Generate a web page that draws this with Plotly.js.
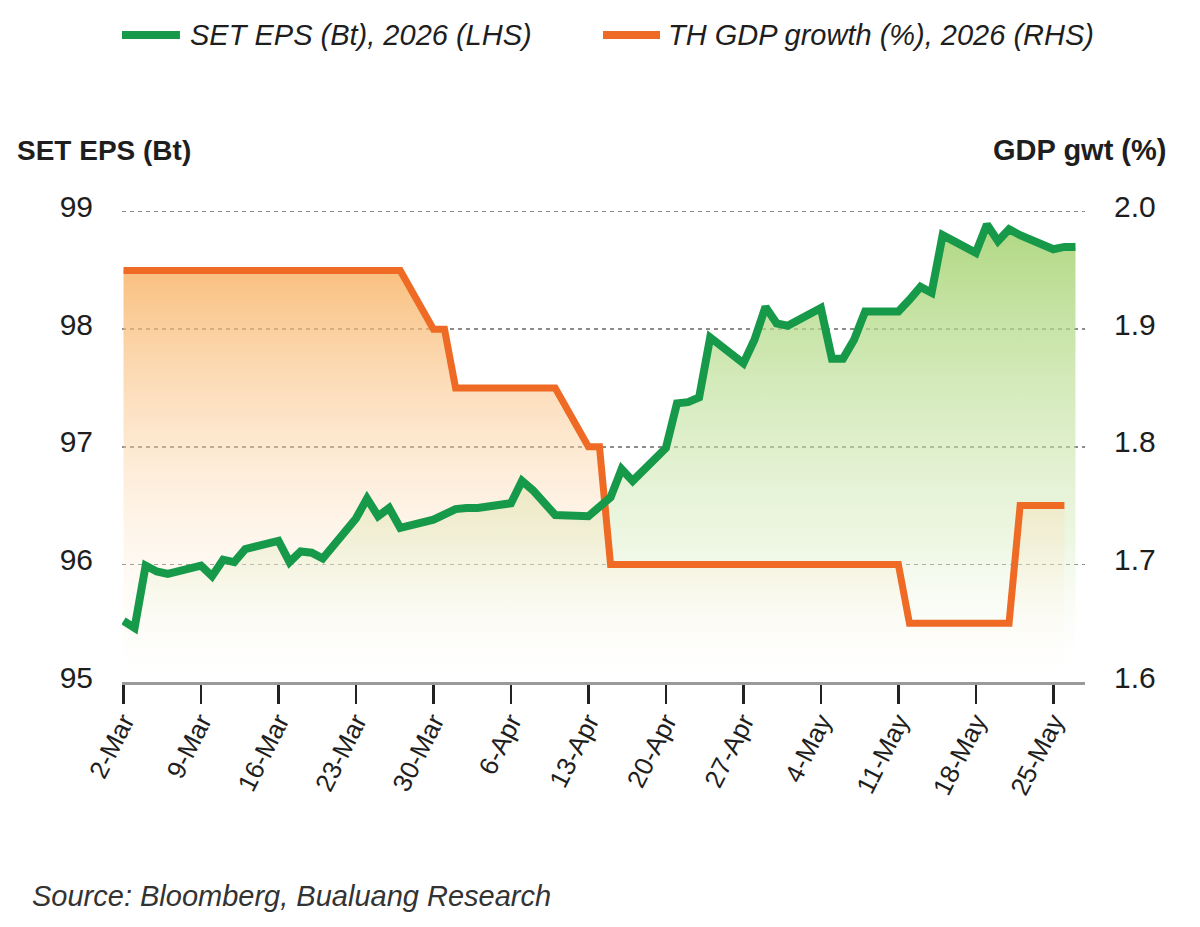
<!DOCTYPE html>
<html>
<head>
<meta charset="utf-8">
<script src="https://cdn.plot.ly/plotly-3.0.1.min.js"></script>
<style>
html,body{margin:0;padding:0;background:#ffffff;}
#chart{width:1200px;height:927px;}
</style>
</head>
<body>
<div id="chart"></div>
<script>
// ---- Data ----
const dates = [
  '2026-03-02','2026-03-03','2026-03-04','2026-03-05','2026-03-06',
  '2026-03-09','2026-03-10','2026-03-11','2026-03-12','2026-03-13',
  '2026-03-16','2026-03-17','2026-03-18','2026-03-19','2026-03-20',
  '2026-03-23','2026-03-24','2026-03-25','2026-03-26','2026-03-27',
  '2026-03-30','2026-03-31','2026-04-01','2026-04-02','2026-04-03',
  '2026-04-06','2026-04-07','2026-04-08','2026-04-09','2026-04-10',
  '2026-04-13','2026-04-14','2026-04-15','2026-04-16','2026-04-17',
  '2026-04-20','2026-04-21','2026-04-22','2026-04-23','2026-04-24',
  '2026-04-27','2026-04-28','2026-04-29','2026-04-30','2026-05-01',
  '2026-05-04','2026-05-05','2026-05-06','2026-05-07','2026-05-08',
  '2026-05-11','2026-05-12','2026-05-13','2026-05-14','2026-05-15',
  '2026-05-18','2026-05-19','2026-05-20','2026-05-21','2026-05-22',
  '2026-05-25','2026-05-26','2026-05-27'
];

const setEps = [
  95.52, 95.46, 95.99, 95.94, 95.92,
  95.99, 95.90, 96.04, 96.02, 96.13,
  96.20, 96.02, 96.11, 96.10, 96.05,
  96.39, 96.56, 96.41, 96.48, 96.31,
  96.38, 96.43, 96.47, 96.48, 96.48,
  96.52, 96.71, 96.63, 96.52, 96.42,
  96.41, 96.48, 96.57, 96.81, 96.71,
  96.99, 97.37, 97.38, 97.42, 97.93,
  97.71, 97.91, 98.19, 98.05, 98.03,
  98.18, 97.75, 97.75, 97.91, 98.15,
  98.15, 98.25, 98.36, 98.31, 98.80,
  98.65, 98.89, 98.75, 98.85, 98.80,
  98.68, 98.70, 98.70
];

const gdpGrowth = [
  1.95, 1.95, 1.95, 1.95, 1.95,
  1.95, 1.95, 1.95, 1.95, 1.95,
  1.95, 1.95, 1.95, 1.95, 1.95,
  1.95, 1.95, 1.95, 1.95, 1.95,
  1.90, 1.90, 1.85, 1.85, 1.85,
  1.85, 1.85, 1.85, 1.85, 1.85,
  1.80, 1.80, 1.70, 1.70, 1.70,
  1.70, 1.70, 1.70, 1.70, 1.70,
  1.70, 1.70, 1.70, 1.70, 1.70,
  1.70, 1.70, 1.70, 1.70, 1.70,
  1.70, 1.65, 1.65, 1.65, 1.65,
  1.65, 1.65, 1.65, 1.65, 1.75,
  1.75, 1.75, null
];

const seriesNames = ['SET EPS (Bt), 2026 (LHS)', 'TH GDP growth (%), 2026 (RHS)'];
const leftTicks = [95, 96, 97, 98, 99];
const rightTicks = [1.6, 1.7, 1.8, 1.9, 2.0];
const leftTitle = 'SET EPS (Bt)';
const rightTitle = 'GDP gwt (%)';
const sourceText = 'Source: Bloomberg, Bualuang Research';

// ---- Styles ----
const FONT = "'Liberation Sans', Arial, Helvetica, sans-serif";
const GREEN = '#17994a';
const ORANGE = '#ee6a25';
const TEXT = '#1e1e1e';
const leftRange = [95, 99.15];
const rightRange = [1.6, 2.015];

const traces = [
  { // green area
    x: dates, y: setEps, type: 'scatter', mode: 'none', yaxis: 'y',
    fill: 'tozeroy', showlegend: false, hoverinfo: 'skip',
    fillgradient: {
      type: 'vertical', start: 95, stop: 99,
      colorscale: [[0, 'rgba(255,255,255,0)'], [0.3, 'rgba(215,236,190,0.45)'], [1, 'rgba(160,208,105,0.87)']]
    }
  },
  { // orange area
    x: dates, y: gdpGrowth, type: 'scatter', mode: 'none', yaxis: 'y2',
    fill: 'tozeroy', showlegend: false, hoverinfo: 'skip',
    fillgradient: {
      type: 'vertical', start: 1.6, stop: 1.95,
      colorscale: [[0, 'rgba(255,248,235,0)'], [1, 'rgba(248,176,95,0.8)']]
    }
  },
  { // orange line
    x: dates, y: gdpGrowth, type: 'scatter', mode: 'lines', yaxis: 'y2',
    name: seriesNames[1], showlegend: false,
    line: { color: ORANGE, width: 7, shape: 'linear' }
  },
  { // green line
    x: dates, y: setEps, type: 'scatter', mode: 'lines', yaxis: 'y3',
    name: seriesNames[0], showlegend: false,
    line: { color: GREEN, width: 8, shape: 'linear' }
  }
];

// legend placement (paper coordinates relative to plot area)
const LEG_Y = 1.3258;
const legendShapes = [
  { type: 'line', xref: 'paper', yref: 'paper', x0: 0, x1: 0.0602, y0: LEG_Y, y1: LEG_Y,
    line: { color: GREEN, width: 8 } },
  { type: 'line', xref: 'paper', yref: 'paper', x0: 0.4995, x1: 0.5587, y0: LEG_Y, y1: LEG_Y,
    line: { color: ORANGE, width: 8 } }
];

const layout = {
  width: 1200, height: 927,
  paper_bgcolor: '#ffffff', plot_bgcolor: 'rgba(0,0,0,0)',
  margin: { l: 122, r: 115, t: 194, b: 245 },
  font: { family: FONT, color: TEXT },
  showlegend: false,
  xaxis: {
    type: 'date',
    range: ['2026-03-01 20:45', '2026-05-27 20:40'],
    tick0: '2026-03-02', dtick: 604800000,
    tickformat: '%-d-%b', tickangle: -63,
    tickfont: { family: FONT, size: 26, color: TEXT },
    ticks: 'outside', ticklen: 19, tickwidth: 2.5, tickcolor: '#222222',
    ticklabelstandoff: -8,
    showline: true, linecolor: '#9a9a9a', linewidth: 3,
    showgrid: false, zeroline: false, fixedrange: true
  },
  yaxis: {
    range: leftRange, tickvals: leftTicks, ticktext: leftTicks.map(String),
    side: 'left', showline: false, zeroline: false,
    showgrid: true, gridcolor: '#8c8c8c', gridwidth: 1.5, griddash: '4px,4px',
    ticks: '', ticklabelstandoff: 28, ticklabelshift: -5,
    tickfont: { family: FONT, size: 30, color: TEXT }, fixedrange: true
  },
  yaxis2: {
    range: rightRange, tickvals: rightTicks, ticktext: rightTicks.map(v => v.toFixed(1)),
    overlaying: 'y', side: 'right', showline: false, zeroline: false, showgrid: false,
    ticks: '', ticklabelstandoff: 28, ticklabelshift: -5,
    tickfont: { family: FONT, size: 30, color: TEXT }, fixedrange: true
  },
  yaxis3: {
    range: leftRange, overlaying: 'y', side: 'left', visible: false,
    showgrid: false, zeroline: false, fixedrange: true
  },
  shapes: legendShapes,
  annotations: [
    { xref: 'paper', yref: 'paper', x: 0.0685, y: LEG_Y, xanchor: 'left', yanchor: 'middle',
      text: seriesNames[0], showarrow: false,
      font: { family: FONT, size: 29, color: TEXT, style: 'italic' } },
    { xref: 'paper', yref: 'paper', x: 0.5649, y: LEG_Y, xanchor: 'left', yanchor: 'middle',
      text: seriesNames[1], showarrow: false,
      font: { family: FONT, size: 29, color: TEXT, style: 'italic' } },
    { xref: 'paper', yref: 'paper', x: -0.111, y: 1.09, xanchor: 'left', yanchor: 'middle',
      text: leftTitle, showarrow: false,
      font: { family: FONT, size: 28, color: TEXT, weight: 'bold' } },
    { xref: 'paper', yref: 'paper', x: 1.086, y: 1.09, xanchor: 'right', yanchor: 'middle',
      text: rightTitle, showarrow: false,
      font: { family: FONT, size: 29, color: TEXT, weight: 'bold' } },
    { xref: 'paper', yref: 'paper', x: -0.0955, y: -0.4385, xanchor: 'left', yanchor: 'middle',
      text: sourceText, showarrow: false,
      font: { family: FONT, size: 29, color: '#333333', style: 'italic' } }
  ]
};

Plotly.newPlot('chart', traces, layout, { staticPlot: true, displayModeBar: false });
</script>
</body>
</html>
